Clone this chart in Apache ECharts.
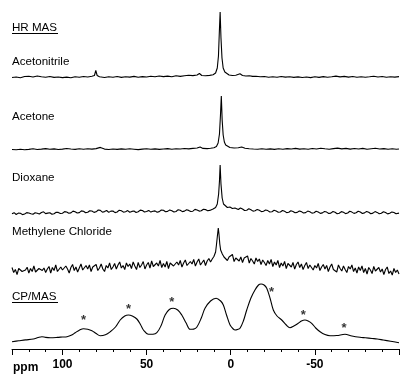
<!DOCTYPE html>
<html><head><meta charset="utf-8">
<script src="https://cdn.jsdelivr.net/npm/echarts@6/dist/echarts.min.js"></script>
<style>html,body{margin:0;padding:0;background:#fff}#c{width:404px;height:375px}</style>
</head><body><div id="c"></div>
<script>
// x axis (ppm), reversed
const ppmMin = -100, ppmMax = 130;
const tickLabels = [100, 50, 0, -50];
const traceNames = ['Acetonitrile', 'Acetone', 'Dioxane', 'Methylene Chloride'];

// intensities (arbitrary units) vs ppm
const acetonitrile = [[130,0.5],[127.5,1],[125,0.3],[122.5,1.5],[120,1.8],[117.5,1],[115,2],[112.5,1.2],[110,0.8],[107.5,1.5],[105,0.6],[102.5,1],[100,0.4],[97.5,0.9],[95,0.3],[92.5,1.2],[90,0.7],[87.5,1.5],[85,1],[82.5,1.8],[81,2.5],[80.2,7.5],[79.4,2.5],[78,1.2],[75,0.5],[72.5,1.3],[70,0.8],[67.5,1.5],[65,0.6],[62.5,1.2],[60,0.9],[57.5,1.6],[55,0.8],[52.5,1.4],[50,1],[47.5,1.8],[45,1.2],[42.5,2],[40,1.4],[37.5,1.9],[35,1.3],[32.5,2.2],[30,1.6],[27.5,2.3],[25,2.8],[22.5,2.4],[20,3],[18.6,4.5],[17.2,2.5],[15,2.2],[12.5,2.6],[10.5,3.2],[9,5],[8,10],[7.3,22],[6.8,45],[6.3,66],[5.8,40],[5.2,20],[4.5,10],[3.5,6],[2.5,4],[1,3],[-1,2.5],[-3,2.8],[-5.5,4.2],[-7,2.5],[-9,2],[-11,2.3],[-13,1.6],[-15,1.8],[-17.5,1.2],[-20,1.5],[-22.5,0.8],[-25,1.2],[-27.5,0.7],[-30,1.5],[-32.5,0.9],[-35,1.3],[-37.5,0.6],[-40,1.1],[-42.5,0.5],[-45,1.0],[-47.5,0.4],[-50,1.2],[-52.5,0.6],[-55,1.4],[-57.5,0.8],[-60,1.3],[-62.5,1.9],[-65,1.1],[-67.5,1.6],[-70,0.9],[-72.5,1.5],[-75,0.8],[-77.5,1.3],[-80,0.7],[-82.5,1.2],[-85,1.8],[-87.5,1.0],[-90,1.5],[-92.5,0.7],[-95,1.3],[-97.5,0.9],[-100,1.4]];

const acetone = [[130,0.5],[127.5,0.2],[125,0.8],[122.5,0.3],[120,0.6],[117.5,1.2],[115,0.5],[112.5,0.9],[110,1.4],[107.5,0.7],[105,1.1],[102.5,0.5],[100,0.9],[97.5,1.5],[95,1.0],[92.5,0.6],[90,1.2],[87.5,0.8],[85,1.3],[82.5,0.9],[80,1.4],[77.5,2.6],[75,0.9],[72.5,0.5],[70,1.0],[67.5,0.6],[65,1.1],[62.5,0.7],[60,1.2],[57.5,0.8],[55,0.4],[52.5,0.9],[50,1.3],[47.5,0.7],[45,1.1],[42.5,0.6],[40,1.0],[37.5,1.4],[35,0.8],[32.5,1.3],[30,1.0],[27.5,1.5],[25,1.1],[22.5,1.6],[20,2.0],[18.2,3.0],[16.5,1.6],[14,1.4],[12,1.8],[10,2.3],[8.5,3.5],[7.5,7],[6.7,16],[6.1,35],[5.6,54],[5.1,30],[4.5,15],[3.8,8],[3,5],[2,3.5],[0.5,2.5],[-2,2],[-4.5,2.2],[-6.5,3],[-8.5,1.8],[-11,1.3],[-13.5,1.0],[-16,0.8],[-18.5,1.2],[-21,0.7],[-23.5,1.1],[-26,0.6],[-28.5,1.2],[-31,0.8],[-33.5,1.4],[-36,1.0],[-38.5,1.6],[-41,0.9],[-43.5,1.3],[-46,0.7],[-48.5,1.5],[-51,1.0],[-53.5,1.8],[-56,1.2],[-58.5,0.8],[-61,1.4],[-63.5,1.9],[-66,1.1],[-68.5,1.6],[-71,0.9],[-73.5,1.5],[-76,1.0],[-78.5,1.6],[-81,0.8],[-83.5,1.3],[-86,1.7],[-88.5,1.0],[-91,1.4],[-93.5,0.8],[-96,1.2],[-98.5,0.7],[-100,1.0]];

const dioxane = [[130,0.2],[128.75,1.3],[127.5,-0.5],[126.25,0.9],[125,0.8],[123.75,-0.6],[122.5,0],[121.25,1.4],[120,1.0],[118.75,0.2],[117.5,-0.3],[116.25,1.2],[115,0.7],[113.75,0],[112.5,1.5],[111.25,2.2],[110,0.4],[108.75,0.9],[107.5,1.2],[106.25,-0.2],[105,0.3],[103.75,1.8],[102.5,1.6],[101.25,0.5],[100,0.8],[98.75,2.4],[97.5,2.0],[96.25,0.8],[95,1.1],[93.75,2.9],[92.5,2.3],[91.25,1.0],[90,1.4],[88.75,3.1],[87.5,2.8],[86.25,1.2],[85,1.7],[83.75,3.3],[82.5,3.0],[81.25,1.6],[80,2.2],[78.75,4.0],[77.5,3.6],[76.25,1.8],[75,2.4],[73.75,3.5],[72.5,1.6],[71.25,2.9],[70,3.0],[68.75,1.4],[67.5,2.0],[66.25,3.8],[65,3.3],[63.75,1.9],[62.5,2.3],[61.25,3.4],[60,1.7],[58.75,2.6],[57.5,3.0],[56.25,1.5],[55,2.2],[53.75,3.9],[52.5,3.5],[51.25,2.0],[50,2.5],[48.75,3.6],[47.5,1.9],[46.25,2.8],[45,3.1],[43.75,1.8],[42.5,2.4],[41.25,4.0],[40,3.7],[38.75,2.2],[37.5,2.6],[36.25,4.1],[35,3.3],[33.75,2.0],[32.5,2.5],[31.25,4.3],[30,3.8],[28.75,2.4],[27.5,2.9],[26.25,4.2],[25,3.6],[23.75,2.5],[22.5,2.8],[21.25,4.6],[20,4.0],[18.75,2.9],[17.5,3.2],[16.25,4.8],[15,4.4],[13.75,3.3],[12.5,3.6],[11.5,4.8],[10.5,5.0],[9,6.5],[8,10],[7.2,20],[6.7,33],[6.3,49],[5.8,30],[5.1,16],[4.3,10],[3.3,8],[2,6.5],[0.5,7],[-1,5.5],[-2.5,6],[-3.5,4.2],[-4.5,4.5],[-5.75,6],[-7,5],[-8.25,3.5],[-9.5,3.8],[-10.75,5.2],[-12,4.3],[-13.25,2.9],[-14.5,3.2],[-15.75,4.6],[-17,3.8],[-18.25,2.4],[-19.5,2.7],[-20.75,4.1],[-22,3.4],[-23.25,2.0],[-24.5,2.3],[-25.75,3.7],[-27,3.0],[-28.25,1.7],[-29.5,2.0],[-30.75,3.5],[-32,2.8],[-33.25,1.4],[-34.5,1.7],[-35.75,3.2],[-37,2.5],[-38.25,1.2],[-39.5,1.6],[-40.75,3.0],[-42,2.4],[-43.25,1.0],[-44.5,1.4],[-45.75,2.9],[-47,2.2],[-48.25,0.9],[-49.5,1.3],[-50.75,2.7],[-52,2.0],[-53.25,0.6],[-54.5,1.1],[-55.75,2.6],[-57,1.9],[-58.25,0.5],[-59.5,0.9],[-60.75,2.5],[-62,1.7],[-63.25,0.3],[-64.5,0.8],[-65.75,2.4],[-67,1.8],[-68.25,0.4],[-69.5,1.0],[-70.75,2.7],[-72,1.9],[-73.25,0.6],[-74.5,1.2],[-75.75,2.8],[-77,2.0],[-78.25,0.5],[-79.5,1.1],[-80.75,2.6],[-82,1.8],[-83.25,0.3],[-84.5,0.9],[-85.75,2.4],[-87,1.6],[-88.25,0.2],[-89.5,0.8],[-90.75,2.3],[-92,1.5],[-93.25,0.1],[-94.5,0.7],[-95.75,2.1],[-97,1.4],[-98.25,0.2],[-100,0.9]];

const methyleneChloride = [
[130,3.5],[129,-1.5],[128,1.5],[127,-3.5],[126,2.5],[125,4.5],[124,-0.5],[123,-2.5],[122,1],[121,3.8],
[120,-2],[119,2.5],[118,-0.5],[117,5],[116,-1],[115,-3],[114,2.5],[113,4.5],[112,0.5],[111,3],
[110,-1.5],[109,2],[108,4.5],[107,-2],[106,3.5],[105,0.5],[104,6],[103,-0.5],[102,-2],[101,4],
[100,1],[99,-1],[98,5],[97,2],[96,-2],[95,3.5],[94,6.5],[93,0.5],[92,4],[91,-1],
[90,3],[89,7],[88,1],[87,-1],[86,5.5],[85,2],[84,6],[83,-0.5],[82,4],[81,2],
[80,6.5],[79,0.5],[78,3],[77,7],[76,2],[75,-0.5],[74,5.5],[73,3],[72,8],[71,1.5],
[70,4],[69,7.5],[68,2],[67,6],[66,9],[65,3],[64,5.5],[63,1.5],[62,8],[61,4.5],
[60,7],[59,2.5],[58,9],[57,5],[56,1.5],[55,8.5],[54,3.5],[53,6],[52,9.5],[51,2],
[50,6],[49,8.5],[48,3],[47,10],[46,4.5],[45,2.5],[44,8],[43,5],[42,10.5],[41,3.5],
[40,7.5],[39,4],[38,9.5],[37,2.5],[36,8],[35,10],[34,5],[33,3.5],[32,9],[31,6],
[30,10.5],[29,4],[28,8],[27,11],[26,5.5],[25,3.5],[24,9.5],[23,7],[22,11.5],[21,5],
[20,9],[19,12],[18,6],[17,8.5],[16,11],[15,5.5],[14,10],[13,12.5],[12,9],
[11,12],[10,14.5],[9,19],[8.5,26],[8,34],[7.4,43],[7,37],[6.5,27],[6,21],[5,17],[4,14],
[3,16],[2,10.5],[1,14],[0,12],[-1,16.5],[-2,9.5],[-3,13],[-4,15],[-5,10],[-6,14],
[-7,8.5],[-8,13],[-9,11],[-10,15],[-11,8],[-12,12.5],[-13,10],[-14,7],[-15,13],[-16,9.5],
[-17,12],[-18,6.5],[-19,11],[-20,8.5],[-21,5.5],[-22,10.5],[-23,7],[-24,11.5],[-25,4.5],[-26,9],
[-27,6],[-28,10.5],[-29,3.5],[-30,8],[-31,5],[-32,9.5],[-33,2.5],[-34,7.5],[-35,9],[-36,4],
[-37,8.5],[-38,2],[-39,6.5],[-40,9],[-41,3.5],[-42,7],[-43,1.5],[-44,5.5],[-45,8.5],[-46,2.5],
[-47,6],[-48,8],[-49,1],[-50,5.5],[-51,3],[-52,7.5],[-53,0.5],[-54,4],[-55,6.5],[-56,2],
[-57,5.5],[-58,-0.5],[-59,4],[-60,7],[-61,1.5],[-62,3.5],[-63,-1],[-64,6],[-65,2.5],[-66,0],
[-67,5],[-68,1.5],[-69,-1.5],[-70,4.5],[-71,2],[-72,6],[-73,-0.5],[-74,3],[-75,-2],[-76,4],
[-77,0.5],[-78,5],[-79,-1.5],[-80,2.5],[-81,-3],[-82,3.5],[-83,1],[-84,-2.5],[-85,4.5],[-86,0],
[-87,-2],[-88,3.5],[-89,-1],[-90,2],[-91,-3.5],[-92,1.5],[-93,4],[-94,-2.5],[-95,0],[-96,-4],[-97,2.5],[-98,-1.5],[-99,1],[-100,-3]];

const cpmas = [[130,3.3],[126,4.2],[122,5.1],[117.3,6],[114.5,7.5],[112.2,8.3],[110,7.6],[107.2,7.3],[103,7.6],[100,8],[97.3,8.3],[94.5,10],[92.4,12.3],[90,14.8],[87.5,16.3],[85,15.8],[82.5,14.3],[80,11.5],[77.6,9.3],[74.5,10.2],[71.6,13.3],[68.5,18],[65.7,25],[63,29],[60.8,30],[58.5,29],[55.8,26],[53.5,20],[51.9,15],[48.9,10.7],[46.2,10.8],[43.9,12.3],[41.5,19],[39,30],[36.5,35.5],[34.1,36.7],[31.5,35],[29.1,30],[26.5,22],[24.2,15.7],[22,15.9],[20.2,17.7],[17.5,27],[15.3,36.7],[12,44],[8.7,46.7],[6,44],[4.4,40],[2.5,30],[0.4,20],[-1.5,16],[-2.6,15],[-4,15.5],[-5.5,16.7],[-7.5,24],[-9.5,35],[-12,47],[-14.4,55],[-16.5,60],[-18,61],[-19.8,60],[-21.4,56.7],[-23.5,46],[-25.3,35],[-27.5,29],[-30.3,25],[-33,20],[-35.2,17.3],[-37.5,19],[-40.1,21.7],[-42,24],[-44.1,25],[-46,24],[-48.1,21.7],[-50.5,17],[-53.1,13.3],[-56,10.5],[-59,9.3],[-63,9.5],[-67.9,10.7],[-72,9],[-76.8,7.7],[-80,7.2],[-84,6.5],[-87,6],[-90.6,5],[-95,3.8],[-100,2.3]];

// spinning sideband markers (ppm, height)
const stars = [[87.5,27.3],[60.8,38.3],[35.0,45.7],[-24.3,56],[-43.1,32.3],[-67.4,19.7]];

const traces = [acetonitrile, acetone, dioxane, methyleneChloride, cpmas];

// layout: baseline pixel row of each trace
const baselines = [78, 150, 214, 271, 345];
const axisY = 349;

const grids = baselines.map((b, i) => i < 4
  ? { left: 12, right: 5, top: b - 70, height: 90 }
  : { left: 12, right: 5, top: b - 70, height: axisY - (b - 70) });

const xAxes = baselines.map((b, i) => ({
  type: 'value', gridIndex: i, min: ppmMin, max: ppmMax, inverse: true,
  show: i === 4, interval: 50,
  axisLine: { show: true, onZero: false, lineStyle: { color: '#000', width: 1 } },
  axisTick: { show: true, length: 6, lineStyle: { color: '#000', width: 1 } },
  splitLine: { show: false },
  axisLabel: {
    show: true, margin: 10, color: '#000', fontFamily: 'Liberation Sans, Arial, sans-serif',
    fontSize: 12, fontWeight: 'bold',
    formatter: v => tickLabels.indexOf(v) >= 0 ? String(v) : ''
  }
}));
// minor ticks every 10 ppm
xAxes.push({
  type: 'value', gridIndex: 4, min: ppmMin, max: ppmMax, inverse: true, interval: 10,
  position: 'bottom',
  axisLine: { show: false, onZero: false },
  axisTick: { show: true, length: 3, lineStyle: { color: '#000', width: 1 } },
  axisLabel: { show: false }, splitLine: { show: false }
});

const yAxes = baselines.map((b, i) => ({
  type: 'value', gridIndex: i, show: false,
  min: i < 4 ? -20 : -(axisY - b), max: 70, splitLine: { show: false }
}));

const series = traces.map((d, i) => ({
  type: 'line', xAxisIndex: i, yAxisIndex: i, data: d,
  showSymbol: false, symbol: 'none', clip: false,
  smooth: i === 4 ? 0.35 : false,
  lineStyle: { color: '#000', width: 1.1 }, animation: false, silent: true
}));
series.push({
  type: 'scatter', xAxisIndex: 4, yAxisIndex: 4, data: stars,
  symbolSize: 1, itemStyle: { color: 'rgba(0,0,0,0)' }, silent: true, animation: false,
  label: { show: true, position: 'inside', formatter: '*', color: '#000',
    fontFamily: 'Liberation Sans, Arial, sans-serif', fontSize: 13, fontWeight: 'bold', offset: [0, 3] }
});

const font = 'Liberation Sans, Arial, sans-serif';
const fs = '11.6px ';
const labelTop = [55.5, 110.3, 171.8, 225.3];
const graphic = [];
graphic.push({ type: 'text', left: 12, top: 22, style: { text: 'HR MAS', font: fs + font, fill: '#000' } });
graphic.push({ type: 'line', shape: { x1: 12, y1: 33.5, x2: 58, y2: 33.5 }, style: { stroke: '#000', lineWidth: 1 } });
traceNames.forEach((n, i) => graphic.push({ type: 'text', left: 12, top: labelTop[i], style: { text: n, font: fs + font, fill: '#000' } }));
graphic.push({ type: 'text', left: 12, top: 290.5, style: { text: 'CP/MAS', font: fs + font, fill: '#000' } });
graphic.push({ type: 'line', shape: { x1: 12, y1: 302.5, x2: 58, y2: 302.5 }, style: { stroke: '#000', lineWidth: 1 } });
graphic.push({ type: 'text', left: 13, top: 362, style: { text: 'ppm', font: 'bold 12px ' + font, fill: '#000' } });

const chart = echarts.init(document.getElementById('c'), null, { renderer: 'canvas' });
chart.setOption({
  animation: false, backgroundColor: '#fff',
  grid: grids, xAxis: xAxes, yAxis: yAxes, series: series, graphic: graphic
});
</script></body></html>
